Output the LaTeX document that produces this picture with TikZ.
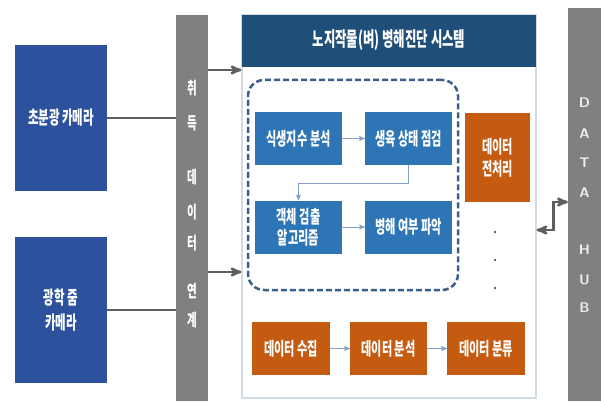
\documentclass[tikz,border=0pt]{standalone}
\usepackage{fontspec}
\setmainfont{Noto Sans CJK KR}
\newfontfamily\krnarrow[FakeStretch=0.62]{Noto Sans CJK KR}
\usepackage{tikz}
\usetikzlibrary{arrows}
\usetikzlibrary{positioning}
\tikzset{>=stealth'}
\definecolor{camblue}{RGB}{44,82,158}
\definecolor{navy}{RGB}{31,78,121}
\definecolor{boxblue}{RGB}{46,117,182}
\definecolor{rust}{RGB}{197,90,17}
\definecolor{bargray}{RGB}{128,128,128}
\definecolor{dashblue}{RGB}{59,94,140}
\definecolor{flowblue}{RGB}{130,160,200}
\definecolor{framegray}{RGB}{210,218,228}
\definecolor{wiregray}{RGB}{95,95,95}
\tikzset{
	camera/.style={fill=camblue, text=white, font=\krnarrow\bfseries\fontsize{18.5}{25}\selectfont, minimum width=92pt, minimum height=146pt, align=center, inner sep=0pt},
	graybar/.style={fill=bargray, minimum width=32pt, inner sep=0pt},
	bartext/.style={text=white, font=\krnarrow\bfseries\fontsize{17}{18}\selectfont, inner sep=0pt},
	hubtext/.style={text=white!85!gray, font=\sffamily\bfseries\fontsize{14}{15}\selectfont, inner sep=0pt},
	sysframe/.style={draw=framegray, line width=1.2pt, fill=white, minimum width=294pt, minimum height=383pt, inner sep=0pt},
	sysheader/.style={fill=navy, text=white, font=\krnarrow\bfseries\fontsize{20}{22}\selectfont, minimum width=294pt, minimum height=52pt, inner sep=0pt},
	group/.style={draw=dashblue, line width=2.5pt, dash pattern=on 6pt off 3pt, rounded corners=16pt, minimum width=210pt, minimum height=210pt, inner sep=0pt},
	task/.style={fill=boxblue, text=white, font=\krnarrow\bfseries\fontsize{18}{21}\selectfont, minimum width=87pt, minimum height=53pt, align=center, inner sep=0pt},
	datatask/.style={fill=rust, text=white, font=\krnarrow\bfseries\fontsize{18}{22}\selectfont, minimum height=53pt, align=center, inner sep=0pt},
	dot/.style={circle, fill=black!70, minimum size=2.5pt, inner sep=0pt},
	wire/.style={draw=wiregray, line width=2pt},
	feed/.style={draw=wiregray, line width=2.5pt, ->},
	flow/.style={draw=flowblue, line width=1pt, ->},
	hublink/.style={draw=wiregray, line width=2.5pt, <->}
}
\begin{document}
\begin{tikzpicture}[x=1pt,y=-1pt]
	\useasboundingbox (0,0) rectangle (601,401);

	\node[camera] (cam1) at (61,118) {초분광 카메라};
	\node[camera] (cam2) at (61,310) {광학 줌\\카메라};

	\node[graybar, minimum height=386pt] (link) at (192,208) {};
	\foreach \ch/\y in {취/88,득/123,데/177,이/212,터/243,연/291,계/320}
		\node[bartext] (link-\y) at (192,\y) {\ch};

	\node[graybar, minimum width=33pt, minimum height=393pt] (hub) at (584.5,204.5) {};
	\foreach \ch/\y in {D/103,A/134,T/163,A/193,H/250,U/280,B/308}
		\node[hubtext] (hub-\y) at (584.5,\y) {\ch};

	\node[sysframe] (sys) at (389,206.5) {};
	\node[sysheader, anchor=north] (title) at (sys.north) {노지작물(벼) 병해진단 시스템};

	\node[group] (grp) at (353,185) {};
	\node[task] (ndvi) at (298.5,138.5) {식생지수 분석};
	\node[task] (growth) at (408.5,138.5) {생육 상태 점검};
	\node[task] (detect) at (298.5,227) {객체 검출\\알고리즘};
	\node[task] (disease) at (408.5,227) {병해 여부 파악};

	\node[datatask, minimum width=65pt, minimum height=89pt] (prep) at (497.5,157.5) {데이터\\전처리};
	\node[dot] (dot1) at (495,232) {};
	\node[dot] (dot2) at (495,260) {};
	\node[dot] (dot3) at (495,288) {};

	\node[datatask, minimum width=78pt] (collect) at (291,348.5) {데이터 수집};
	\node[datatask, minimum width=77pt] (analyze) at (388.5,348.5) {데이터 분석};
	\node[datatask, minimum width=78pt] (classify) at (486,348.5) {데이터 분류};

	\draw[wire] (cam1.east) -- (cam1.east -| link.west);
	\draw[wire] (cam2.east) -- (cam2.east -| link.west);
	\draw[feed] (link.east |- 0,70) -- (sys.west |- 0,70);
	\draw[feed] (link.east |- 0,272) -- (sys.west |- 0,272);

	\draw[flow] (ndvi) -- (growth);
	\draw[flow] (growth.south) -- ++(0,18) -| (detect.north);
	\draw[flow] (detect) -- (disease);
	\draw[flow] (collect) -- (analyze);
	\draw[flow] (analyze) -- (classify);

	\draw[hublink] (sys.east |- 0,230) -- ++(17,0) |- (hub.west |- 0,202);
\end{tikzpicture}
\end{document}
